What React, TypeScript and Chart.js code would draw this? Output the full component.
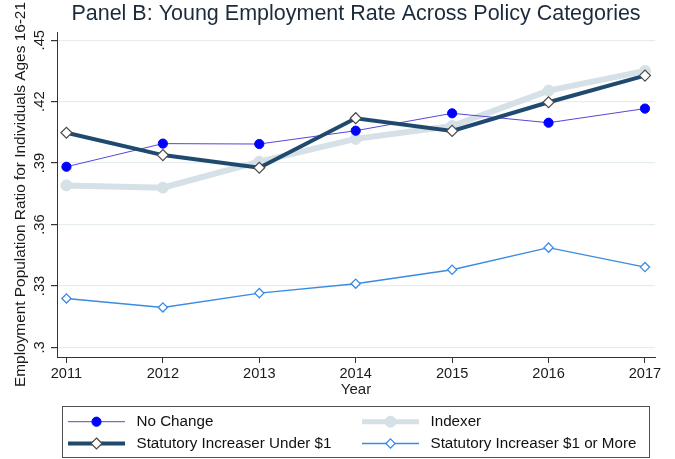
import React, { useEffect, useRef } from 'react';
import { Chart, registerables } from 'chart.js';

Chart.register(...registerables);

const FONT = '"Liberation Sans", Arial, Helvetica, sans-serif';

const years = [2011, 2012, 2013, 2014, 2015, 2016, 2017];
const noChange = [0.3882, 0.3995, 0.3993, 0.4058, 0.4143, 0.4097, 0.4166];
const indexer = [0.3791, 0.378, 0.3907, 0.4018, 0.4081, 0.4254, 0.435];
const statUnder1 = [0.4048, 0.3939, 0.3877, 0.4119, 0.4057, 0.4197, 0.4327];
const stat1OrMore = [0.3239, 0.3195, 0.3265, 0.3311, 0.3379, 0.3487, 0.3392];
const yTickValues = [0.3, 0.33, 0.36, 0.39, 0.42, 0.45];
const yTickLabels = ['.3', '.33', '.36', '.39', '.42', '.45'];
const seriesNames = [
  'No Change',
  'Indexer',
  'Statutory Increaser Under $1',
  'Statutory Increaser $1 or More',
];
const titleText = 'Panel B: Young Employment Rate Across Policy Categories';
const yTitle = 'Employment Population Ratio for Individuals Ages 16-21';
const xTitle = 'Year';

const toPoints = (vals: number[]) => years.map((x, i) => ({ x, y: vals[i] }));

const legendPlugin = {
  id: 'stataLegend',
  afterDraw(chart: any) {
    const ctx = chart.ctx as CanvasRenderingContext2D;
    const area = chart.chartArea;
    ctx.save();
    const boxL = area.left + 5.5;
    const boxR = area.right - 5.5;
    const boxT = 406.5;
    const boxB = chart.height - 1.5;
    ctx.strokeStyle = '#505050';
    ctx.lineWidth = 1;
    ctx.strokeRect(boxL, boxT, boxR - boxL, boxB - boxT);
    const cols = [boxL + 5.5, boxL + 299.5];
    const rows = [421.7, 443.5];
    const symLen = 57;
    chart.data.datasets.forEach((ds: any, i: number) => {
      const x0 = cols[i % 2];
      const y = rows[Math.floor(i / 2)];
      ctx.beginPath();
      ctx.strokeStyle = ds.borderColor;
      ctx.lineWidth = Math.min(ds.borderWidth, 5);
      ctx.moveTo(x0, y);
      ctx.lineTo(x0 + symLen, y);
      ctx.stroke();
      const cx = x0 + symLen / 2;
      const r = ds.pointRadius;
      ctx.beginPath();
      if (ds.pointStyle === 'rectRot') {
        ctx.moveTo(cx, y - r);
        ctx.lineTo(cx + r, y);
        ctx.lineTo(cx, y + r);
        ctx.lineTo(cx - r, y);
        ctx.closePath();
      } else {
        ctx.arc(cx, y, r, 0, Math.PI * 2);
      }
      ctx.fillStyle = ds.pointBackgroundColor;
      ctx.fill();
      ctx.strokeStyle = ds.pointBorderColor;
      ctx.lineWidth = ds.pointBorderWidth;
      ctx.stroke();
      ctx.fillStyle = '#111';
      ctx.font = `15.2px ${FONT}`;
      ctx.textBaseline = 'middle';
      ctx.textAlign = 'left';
      ctx.fillText(ds.label, x0 + 68.5, y);
    });
    ctx.restore();
  },
};

export default function App() {
  const ref = useRef<HTMLCanvasElement>(null);
  useEffect(() => {
    document.body.style.margin = '0';
    const chart = new Chart(ref.current!, {
      type: 'line',
      data: {
        datasets: [
          {
            label: seriesNames[0],
            data: toPoints(noChange),
            borderColor: '#5546d8',
            borderWidth: 1,
            pointStyle: 'circle',
            pointRadius: 4.6,
            pointBackgroundColor: '#0000ff',
            pointBorderColor: '#0000ff',
            pointBorderWidth: 1,
            order: 3,
          },
          {
            label: seriesNames[1],
            data: toPoints(indexer),
            borderColor: '#d5e0e7',
            borderWidth: 6,
            pointStyle: 'circle',
            pointRadius: 5.5,
            pointBackgroundColor: '#d5e0e7',
            pointBorderColor: '#d5e0e7',
            pointBorderWidth: 1,
            order: 4,
          },
          {
            label: seriesNames[2],
            data: toPoints(statUnder1),
            borderColor: '#1f4a6e',
            borderWidth: 4,
            pointStyle: 'rectRot',
            pointRadius: 5.5,
            pointBackgroundColor: '#ffffff',
            pointBorderColor: '#4a4a4a',
            pointBorderWidth: 1.2,
            order: 2,
          },
          {
            label: seriesNames[3],
            data: toPoints(stat1OrMore),
            borderColor: '#3a8be2',
            borderWidth: 1.4,
            pointStyle: 'rectRot',
            pointRadius: 4.6,
            pointBackgroundColor: '#ffffff',
            pointBorderColor: '#3a8be2',
            pointBorderWidth: 1.3,
            order: 1,
          },
        ],
      },
      options: {
        responsive: false,
        animation: false,
        devicePixelRatio: 1,
        layout: { padding: { left: 0, right: 20, top: 0, bottom: 59 } },
        plugins: {
          legend: { display: false },
          tooltip: { enabled: false },
          title: {
            display: true,
            text: titleText,
            fullSize: false,
            color: '#1c2b3b',
            font: { size: 21.5, family: FONT, weight: 'normal' },
            padding: { top: 1.4, bottom: 4.8 },
          },
        },
        scales: {
          x: {
            type: 'linear',
            min: 2010.902,
            max: 2017.104,
            afterBuildTicks: (s: any) => {
              s.ticks = years.map((v) => ({ value: v }));
            },
            afterFit: (s: any) => {
              s.height = 43;
            },
            ticks: {
              callback: (v: any) => String(v),
              autoSkip: false,
              maxRotation: 0,
              color: '#1a1a1a',
              padding: 2,
              font: { size: 14.6, family: FONT },
            },
            grid: {
              drawOnChartArea: false,
              drawTicks: true,
              tickLength: 6,
              color: '#333',
            },
            border: { display: true, color: '#333', width: 1 },
            title: {
              display: true,
              text: xTitle,
              color: '#1a1a1a',
              font: { size: 15, family: FONT },
              padding: { top: 0, bottom: 1 },
            },
          },
          y: {
            type: 'linear',
            min: 0.2953,
            max: 0.454,
            afterBuildTicks: (s: any) => {
              s.ticks = yTickValues.map((v) => ({ value: v }));
            },
            afterFit: (s: any) => {
              s.width = 57;
            },
            ticks: {
              callback: (v: any) => {
                const i = yTickValues.findIndex((t) => Math.abs(t - v) < 1e-6);
                return i >= 0 ? yTickLabels[i] : '';
              },
              minRotation: 90,
              maxRotation: 90,
              crossAlign: 'center',
              padding: 1,
              color: '#1a1a1a',
              font: { size: 14.8, family: FONT },
            },
            grid: {
              color: '#e6edf1',
              tickColor: '#333',
              tickLength: 6,
              drawTicks: true,
              lineWidth: 1.2,
            },
            border: { display: true, color: '#333', width: 1 },
            title: {
              display: true,
              text: yTitle,
              color: '#1a1a1a',
              font: { size: 15.4, family: FONT },
              padding: { top: 11.5, bottom: 0 },
            },
          },
        },
      },
      plugins: [legendPlugin],
    } as any);
    return () => chart.destroy();
  }, []);
  return (
    <div style={{ width: 675, height: 459, background: '#fff' }}>
      <canvas ref={ref} width={675} height={459} style={{ display: 'block' }} />
    </div>
  );
}
